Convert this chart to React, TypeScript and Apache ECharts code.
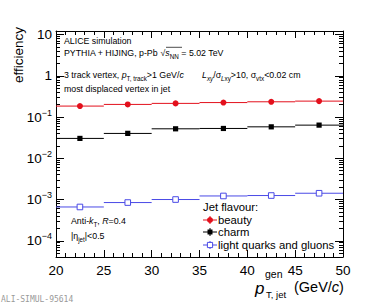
import React, { useEffect, useRef } from "react";
import * as echarts from "echarts";

// ---- data ----
const binCenters = [22.5, 27.5, 32.5, 37.5, 42.5, 47.5];
const binHalfWidth = 2.5;
const beauty = [0.184, 0.202, 0.214, 0.224, 0.234, 0.243];
const charm = [0.0303, 0.04, 0.0518, 0.0528, 0.0578, 0.0636];
const lightQG = [0.00066, 0.000845, 0.001, 0.00122, 0.00125, 0.00142];
const yDecades = [-4, -3, -2, -1, 0, 1];
const xMin = 20;
const xMax = 50;
const xStep = 5;
const yMinExp = -4.393;
const yMaxExp = 1.085;

const FONT = "'Liberation Sans', Arial, Helvetica, sans-serif";
const RED = "#e3101c";
const BLACK = "#000000";
const BLUE = "#4a4ae6";

const minorExps: number[] = [];
for (let d = -5; d <= 1; d++) {
  for (let k = 2; k <= 9; k++) {
    const e = d + Math.log10(k);
    if (e > yMinExp && e < yMaxExp) minorExps.push(e);
  }
}

function toLog(arr: number[]) {
  return binCenters.map((x, i) => [x, Math.log10(arr[i])]);
}

function makeSeries(name: string, values: number[], color: string, marker: "circle" | "square" | "open") {
  return {
    type: "custom",
    name,
    xAxisIndex: 0,
    yAxisIndex: 0,
    data: toLog(values),
    renderItem: (params: any, api: any) => {
      const x = api.value(0);
      const ly = api.value(1);
      const p0 = api.coord([x - binHalfWidth, ly]);
      const p1 = api.coord([x + binHalfWidth, ly]);
      const c = api.coord([x, ly]);
      const children: any[] = [
        {
          type: "line",
          shape: { x1: p0[0], y1: p0[1], x2: p1[0], y2: p1[1] },
          style: { stroke: color, lineWidth: 1 },
        },
      ];
      if (marker === "circle") {
        children.push({ type: "circle", shape: { cx: c[0], cy: c[1], r: 3 }, style: { fill: color } });
      } else if (marker === "square") {
        children.push({ type: "rect", shape: { x: c[0] - 2.6, y: c[1] - 2.6, width: 5.2, height: 5.2 }, style: { fill: color } });
      } else {
        children.push({
          type: "rect",
          shape: { x: c[0] - 2.8, y: c[1] - 2.8, width: 5.6, height: 5.6 },
          style: { fill: "#fff", stroke: color, lineWidth: 1 },
        });
      }
      return { type: "group", children };
    },
  };
}

const annRich = {
  n: { fontSize: 8.8, fontFamily: FONT, lineHeight: 12, fill: "#000" },
  i: { fontSize: 8.8, fontFamily: FONT, fontStyle: "italic", lineHeight: 12, fill: "#000" },
  sub: { fontSize: 6.3, fontFamily: FONT, lineHeight: 7, verticalAlign: "bottom", fill: "#000" },
  isub: { fontSize: 6.3, fontFamily: FONT, fontStyle: "italic", lineHeight: 7, verticalAlign: "bottom", fill: "#000" },
};

function ann(x: number, y: number, text: string, extra: any = {}) {
  return {
    type: "text",
    x,
    y,
    style: { text, rich: annRich, align: "left", verticalAlign: "middle", fill: "#000", ...extra },
    z: 10,
  };
}

function legendEntry(y: number, color: string, marker: "circle" | "square" | "open", label: string) {
  const cx = 210;
  const items: any[] = [
    { type: "line", shape: { x1: cx - 7, y1: y, x2: cx + 7, y2: y }, style: { stroke: color, lineWidth: 1 } },
    { type: "line", shape: { x1: cx, y1: y - 4, x2: cx, y2: y + 4 }, style: { stroke: color, lineWidth: 1 } },
  ];
  if (marker === "circle") items.push({ type: "circle", shape: { cx, cy: y, r: 3 }, style: { fill: color } });
  else if (marker === "square")
    items.push({ type: "rect", shape: { x: cx - 2.5, y: y - 2.5, width: 5, height: 5 }, style: { fill: color } });
  else
    items.push({
      type: "rect",
      shape: { x: cx - 2.6, y: y - 2.6, width: 5.2, height: 5.2 },
      style: { fill: "#fff", stroke: color, lineWidth: 1 },
    });
  items.push({
    type: "text",
    x: 218,
    y,
    style: { text: label, font: `11.3px ${FONT}`, fill: "#000", align: "left", verticalAlign: "middle" },
  });
  return { type: "group", z: 10, children: items };
}

export default function App() {
  const ref = useRef<HTMLDivElement>(null);
  useEffect(() => {
    if (!ref.current) return;
    const chart = echarts.init(ref.current, undefined, { renderer: "svg" });
    const yLabelFmt = (v: number) => {
      const e = Math.round(v);
      if (e === 1) return "{b|10}";
      if (e === 0) return "{b|1}";
      return `{b|10}{s|${e < 0 ? "\u2212" : ""}${Math.abs(e)}}`;
    };
    const yRich = {
      b: { fontSize: 13.5, fontFamily: FONT, color: "#000", lineHeight: 18 },
      s: { fontSize: 9, fontFamily: FONT, color: "#000", lineHeight: 10, verticalAlign: "top" },
    };
    const axisLineStyle = { show: true, onZero: false, lineStyle: { color: "#000", width: 1 } };
    const noAxisLine = { show: false, onZero: false };
    const baseY = { type: "value", min: yMinExp, max: yMaxExp, splitLine: { show: false } };
    const baseX = {
      type: "value",
      min: xMin,
      max: xMax,
      interval: xStep,
      splitLine: { show: false },
      minorSplitLine: { show: false },
    };
    const option: any = {
      animation: false,
      backgroundColor: "#fff",
      grid: { left: 56, right: 39, top: 31, bottom: 48, containLabel: false, outerBoundsMode: "none" },
      xAxis: [
        {
          ...baseX,
          position: "bottom",
          axisLine: axisLineStyle,
          axisTick: { show: true, inside: true, length: 7, lineStyle: { color: "#000" } },
          minorTick: { show: true, splitNumber: 5, length: 4, lineStyle: { color: "#000" } },
          axisLabel: { show: true, margin: 6, fontSize: 13.5, fontFamily: FONT, color: "#000" },
        },
        {
          ...baseX,
          position: "top",
          axisLine: axisLineStyle,
          axisTick: { show: true, inside: true, length: 7, lineStyle: { color: "#000" } },
          minorTick: { show: true, splitNumber: 5, length: 4, lineStyle: { color: "#000" } },
          axisLabel: { show: false },
        },
      ],
      yAxis: [
        {
          ...baseY,
          position: "left",
          axisLine: axisLineStyle,
          axisTick: { show: true, inside: true, length: 8, customValues: yDecades, lineStyle: { color: "#000" } },
          axisLabel: { show: true, customValues: yDecades, margin: 4, formatter: yLabelFmt, rich: yRich },
        },
        {
          ...baseY,
          position: "left",
          axisLine: noAxisLine,
          axisTick: { show: true, inside: true, length: 4, customValues: minorExps, lineStyle: { color: "#000" } },
          axisLabel: { show: false },
        },
        {
          ...baseY,
          position: "right",
          axisLine: axisLineStyle,
          axisTick: { show: true, inside: true, length: 8, customValues: yDecades, lineStyle: { color: "#000" } },
          axisLabel: { show: false },
        },
        {
          ...baseY,
          position: "right",
          axisLine: noAxisLine,
          axisTick: { show: true, inside: true, length: 4, customValues: minorExps, lineStyle: { color: "#000" } },
          axisLabel: { show: false },
        },
      ],
      series: [
        makeSeries("light quarks and gluons", lightQG, BLUE, "open"),
        makeSeries("charm", charm, BLACK, "square"),
        makeSeries("beauty", beauty, RED, "circle"),
      ],
      graphic: [
        // y-axis title
        {
          type: "text",
          x: 18,
          y: 27,
          rotation: Math.PI / 2,
          style: { text: "efficiency", font: `13.5px ${FONT}`, fill: "#000", align: "right", verticalAlign: "middle" },
        },
        // x-axis title
        {
          type: "text",
          x: 255,
          y: 288,
          style: { text: "p", font: `italic 17px ${FONT}`, fill: "#000", align: "left", verticalAlign: "middle" },
        },
        {
          type: "text",
          x: 265,
          y: 274,
          style: { text: "gen", font: `10.5px ${FONT}`, fill: "#000", align: "left", verticalAlign: "middle" },
        },
        {
          type: "text",
          x: 266,
          y: 294,
          style: { text: "T, jet", font: `9.5px ${FONT}`, fill: "#000", align: "left", verticalAlign: "middle" },
        },
        {
          type: "text",
          x: 294,
          y: 287,
          style: {
            text: "{n|(GeV/}{i|c}{n|)}",
            rich: {
              n: { fontSize: 14.5, fontFamily: FONT, fill: "#000" },
              i: { fontSize: 14.5, fontFamily: FONT, fontStyle: "italic", fill: "#000" },
            },
            align: "left",
            verticalAlign: "middle",
          },
        },
        // annotations
        ann(64, 41, "{n|ALICE simulation}"),
        ann(64, 53, "{n|PYTHIA + HIJING, p-Pb }{n|\u221a}{i|s}{sub|NN}{n| = 5.02 TeV}"),
        { type: "line", shape: { x1: 166, y1: 47.3, x2: 182, y2: 47.3 }, style: { stroke: "#000", lineWidth: 0.7 } },
        ann(64, 75, "{n|3 track vertex, }{i|p}{sub|T, track}{n|>1 GeV/}{i|c}"),
        ann(202, 75, "{i|L}{isub|xy}{n|/\u03c3}{isub|L}{sub|xy}{n|>10, \u03c3}{sub|vtx}{n|<0.02 cm}"),
        ann(64, 89, "{n|most displaced vertex in jet}"),
        ann(71, 221, "{n|Anti-}{i|k}{sub|T}{n|, }{i|R}{n|=0.4}"),
        ann(71, 236, "{n||\u03b7}{sub|jet}{n||<0.5}"),
        // legend
        {
          type: "text",
          x: 203,
          y: 207,
          style: { text: "Jet flavour:", font: `11.3px ${FONT}`, fill: "#000", align: "left", verticalAlign: "middle" },
          z: 10,
        },
        legendEntry(220, RED, "circle", "beauty"),
        legendEntry(232, BLACK, "square", "charm"),
        legendEntry(245, BLUE, "open", "light quarks and gluons"),
        // watermark
        {
          type: "text",
          x: 1,
          y: 299,
          style: {
            text: "ALI-SIMUL-95614",
            font: `8px 'DejaVu Sans Mono', monospace`,
            fill: "#999",
            align: "left",
            verticalAlign: "middle",
          },
        },
      ],
    };
    chart.setOption(option);
    return () => chart.dispose();
  }, []);
  return (
    <div
      ref={ref}
      style={{ position: "fixed", left: 0, top: 0, width: 382, height: 305, background: "#fff" }}
    />
  );
}
